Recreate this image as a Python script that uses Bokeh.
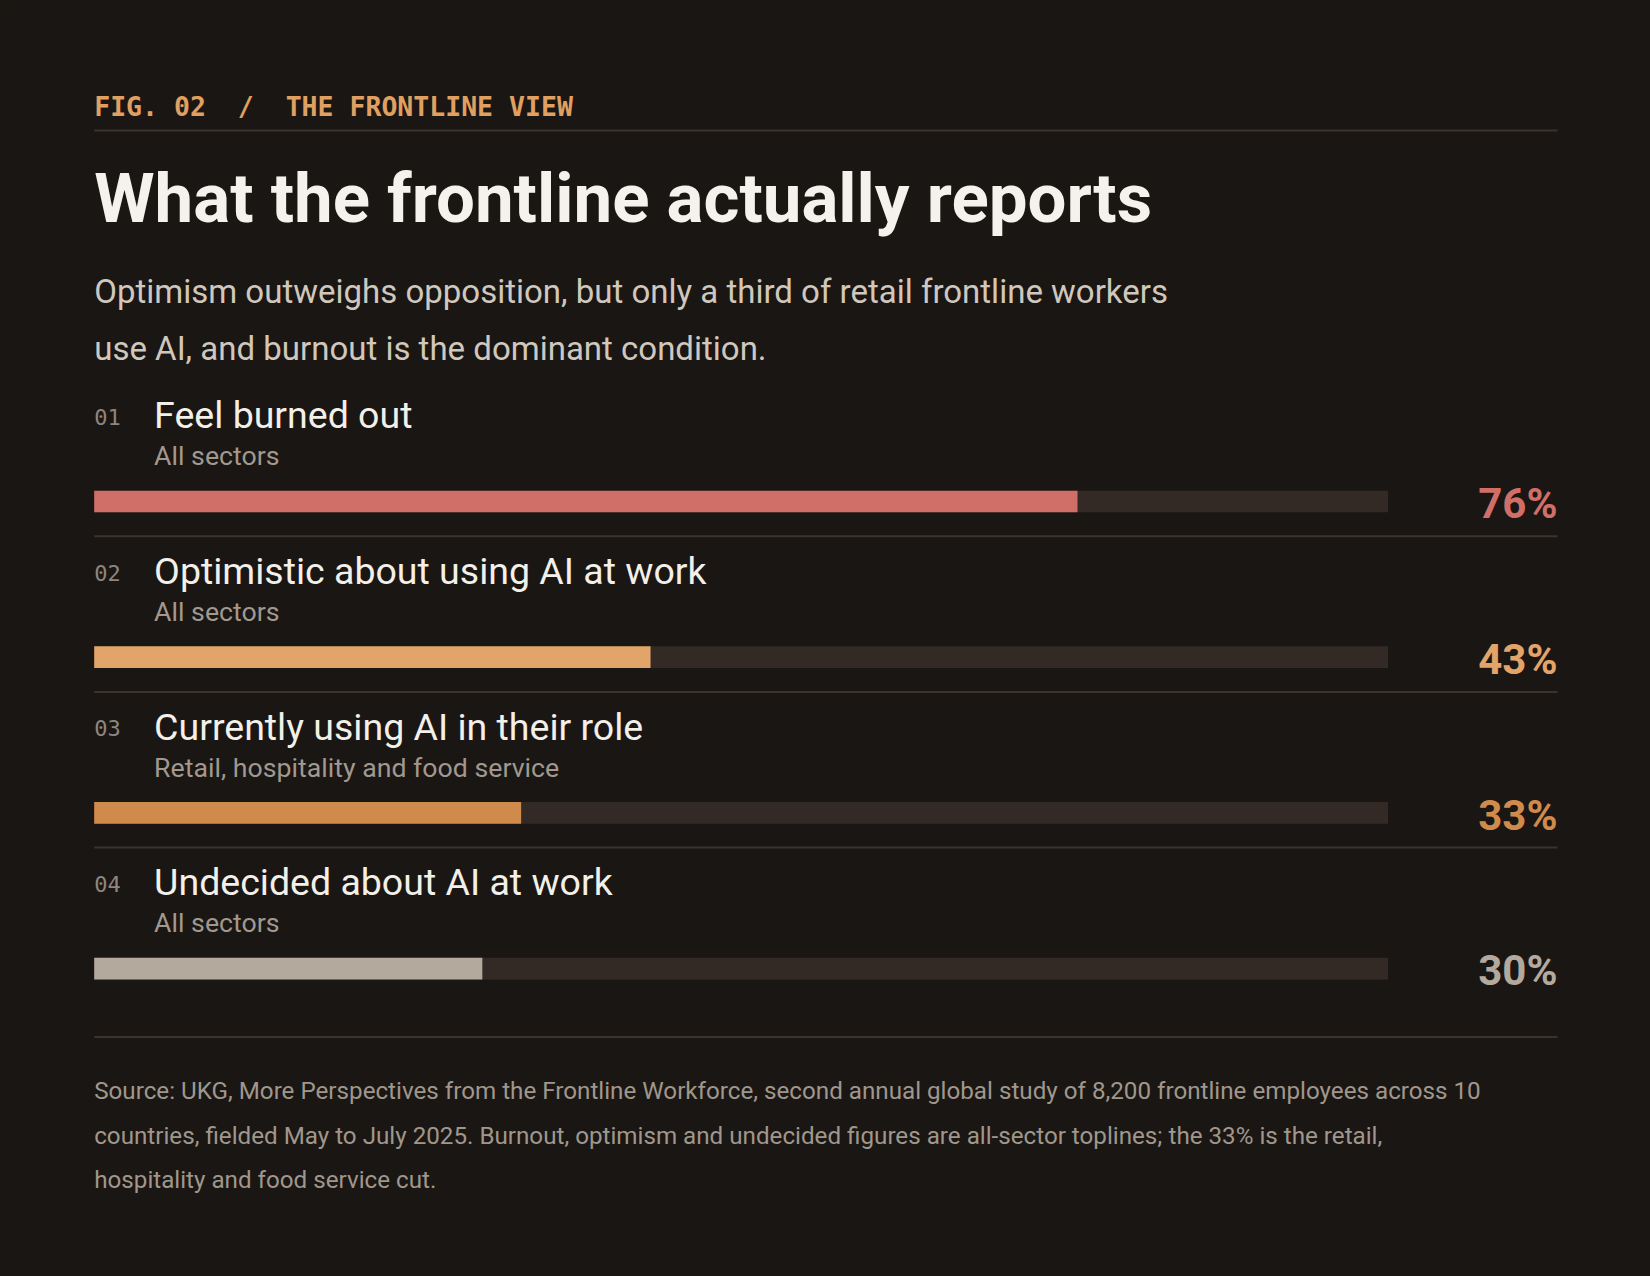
from bokeh.plotting import figure
from bokeh.models import Range1d, ColumnDataSource
from bokeh.core.properties import value
from bokeh.embed import file_html
from bokeh.resources import INLINE

# data
numbers = ["01", "02", "03", "04"]
labels = ["Feel burned out", "Optimistic about using AI at work",
          "Currently using AI in their role", "Undecided about AI at work"]
sectors = ["All sectors", "All sectors", "Retail, hospitality and food service", "All sectors"]
pcts = [76, 43, 33, 30]
bar_colors = ["#cf6f68", "#e3a469", "#d08a4c", "#b4a99d"]
track_max = [100, 100, 100, 100]

NB = "\u00a0"
kicker = "FIG. 02" + NB * 2 + "/" + NB * 2 + "THE FRONTLINE VIEW"
title = "What the frontline actually reports"
subtitle = ["Optimism outweighs opposition, but only a third of retail frontline workers",
            "use AI, and burnout is the dominant condition."]
source = ["Source: UKG, More Perspectives from the Frontline Workforce, second annual global study of 8,200 frontline employees across 10",
          "countries, fielded May to July 2025. Burnout, optimism and undecided figures are all-sector toplines; the 33% is the retail,",
          "hospitality and food service cut."]

# layout (page pixels)
W, H = 1634, 1260
BG = "#1a1613"
RULE = "#3a332e"
L, R = 93.7, 1557
BAR_L, BAR_R = 93.7, 1387.5
LABEL_X = 153.6
ROW0, PITCH = 428, 155.7
K = 0.35  # svg text sits this many ems below the requested baseline

def bl(y, size):
    return y - K * size

span = BAR_R - BAR_L
p = figure(width=W, height=H, x_range=Range1d(0, W), y_range=Range1d(H, 0),
           x_axis_type=None, y_axis_type=None, toolbar_location=None,
           output_backend="svg", min_border=0, title=None)
p.extra_x_ranges = {"pct": Range1d(-BAR_L / span * 100, (W - BAR_L) / span * 100)}
p.grid.visible = False
p.outline_line_color = None
p.background_fill_color = BG
p.border_fill_color = BG

def txt(x, y, t, size, color, font="Roboto", style="normal", align="left"):
    p.text(x=x, y=[bl(v, size) for v in y], text=t, text_font=value(font),
           text_font_size="%gpx" % size, text_font_style=style, text_color=color,
           text_baseline="alphabetic", text_align=align)

# header
txt([L], [115], [kicker], 26.5, "#e0a061", font="DejaVu Sans Mono", style="bold")
p.segment(x0=[L], y0=[130], x1=[R], y1=[130], line_color=RULE, line_width=2)
txt([L], [222], [title], 69, "#f5f1ec", style="bold")
txt([L, L], [302.7, 360], subtitle, 33, "#d0c7bd")

# rows
row_y = [ROW0 + i * PITCH for i in range(len(labels))]
src = ColumnDataSource(dict(
    num=numbers, label=labels, sector=sectors, pct=pcts, color=bar_colors,
    track=track_max,
    pct_txt=["%d%%" % v for v in pcts],
    num_y=[bl(y - 4, 22) for y in row_y],
    label_y=[bl(y, 37.5) for y in row_y],
    sector_y=[bl(y + 37, 26.7) for y in row_y],
    bar_y=[y + 73 for y in row_y],
    pct_y=[bl(y + 90, 42) for y in row_y],
    num_x=[L] * 4, label_x=[LABEL_X] * 4, pct_x=[R] * 4,
))

p.text(x="num_x", y="num_y", text="num", source=src, text_font=value("DejaVu Sans Mono"),
       text_font_size="22px", text_color="#8e867e", text_baseline="alphabetic")
p.text(x="label_x", y="label_y", text="label", source=src, text_font=value("Roboto"),
       text_font_size="37.5px", text_color="#f3efe9", text_baseline="alphabetic")
p.text(x="label_x", y="sector_y", text="sector", source=src, text_font=value("Roboto"),
       text_font_size="26.7px", text_color="#a1988f", text_baseline="alphabetic")
p.hbar(y="bar_y", left=0, right="track", height=21.7, source=src, x_range_name="pct",
       fill_color="#342a25", line_color=None)
p.hbar(y="bar_y", left=0, right="pct", height=21.7, source=src, x_range_name="pct",
       fill_color="color", line_color=None)
p.text(x="pct_x", y="pct_y", text="pct_txt", source=src, text_font=value("Roboto"),
       text_font_size="42px", text_font_style="bold", text_color="color",
       text_baseline="alphabetic", text_align="right")

sep_y = [y + 107.7 for y in row_y[:-1]] + [1036.5]
p.segment(x0=[L] * len(sep_y), y0=sep_y, x1=[R] * len(sep_y), y1=sep_y,
          line_color=RULE, line_width=2)

# footer
txt([L] * 3, [1098.6, 1143.8, 1188], source, 24.2, "#a0978c")

html = file_html(p, INLINE)
html = html.replace("<body>", '<body style="background-color:%s;">' % BG)
open("out.html", "w").write(html)
